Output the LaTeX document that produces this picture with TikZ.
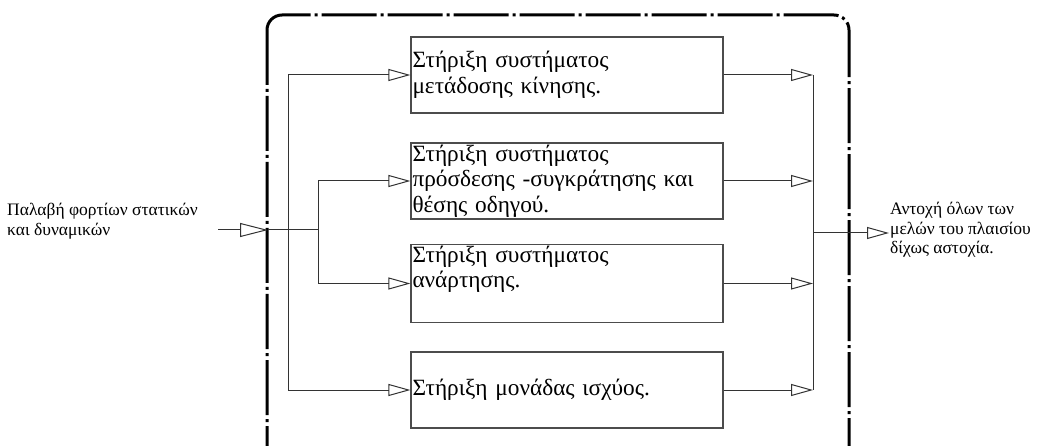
\documentclass[tikz,border=0pt]{standalone}
\usepackage{fontspec}
\setmainfont{Liberation Serif}
\usetikzlibrary{arrows.meta}
\tikzset{
  boxnode/.style={draw=black!70, line width=1.2pt, rectangle, minimum width=312pt, minimum height=76pt,
    text width=309pt, align=left, inner sep=1.5pt, font=\fontsize{23.3}{25.5}\selectfont},
  conn/.style={draw=black!80, line width=1pt},
  arr/.style={conn, -{Triangle[open, length=22pt, width=12pt, line width=1pt]}},
  bigarr/.style={conn, -{Triangle[open, length=28pt, width=14pt, line width=1pt]}},
  sidetext/.style={align=left, inner sep=1pt, font=\fontsize{17.5}{19.5}\selectfont},
  frame/.style={line width=3pt, dash pattern=on 55pt off 4pt on 3pt off 4pt, rounded corners=15pt}
}
\begin{document}
\begin{tikzpicture}[x=1pt,y=-1pt]
\useasboundingbox (0,0) rectangle (1049,446);
\clip (0,0) rectangle (1049,446);
\draw[frame] (267,15) rectangle (849,462);
% boxes
\node[boxnode] (b1) at (567,75) {Στήριξη συστήματος\\μετάδοσης κίνησης.};
\node[boxnode] (b2) at (567,181) {Στήριξη συστήματος\\πρόσδεσης -συγκράτησης και\\θέσης οδηγού.};
\node[boxnode] (b3) at (567,283.5) {Στήριξη συστήματος\\ανάρτησης.\\\strut};
\node[boxnode] (b4) at (567,390) {Στήριξη μονάδας ισχύος.};
% side texts
\node[sidetext, anchor=west] (in) at (6,221) {Παλαβή φορτίων στατικών\\και δυναμικών};
\coordinate (inA) at (218,230);
\coordinate (inB) at (268,230);
\coordinate (L1) at (288,230);
\coordinate (L2) at (318,230);
\coordinate (R) at (813,233);
\coordinate (outT) at (889,233);
\node[sidetext, anchor=west] (out) at (889,230) {Αντοχή όλων των\\μελών του πλαισίου\\δίχως αστοχία.};
% input
\draw[bigarr] (inA) -- (inB);
\draw[conn] (inB) -- (L2);
% left buses
\draw[conn] (L1 |- b1.west) -- (L1 |- b4.west);
\draw[arr] (L1 |- b1.west) -- (b1.west);
\draw[arr] (L1 |- b4.west) -- (b4.west);
\draw[conn] (L2 |- b2.west) -- (L2 |- b3.west);
\draw[arr] (L2 |- b2.west) -- (b2.west);
\draw[arr] (L2 |- b3.west) -- (b3.west);
% right bus
\draw[conn] (R |- b1.east) -- (R |- b4.east);
\draw[arr] (b1.east) -- (R |- b1.east);
\draw[arr] (b2.east) -- (R |- b2.east);
\draw[arr] (b3.east) -- (R |- b3.east);
\draw[arr] (b4.east) -- (R |- b4.east);
\draw[arr] (R) -- (outT);
\end{tikzpicture}
\end{document}
